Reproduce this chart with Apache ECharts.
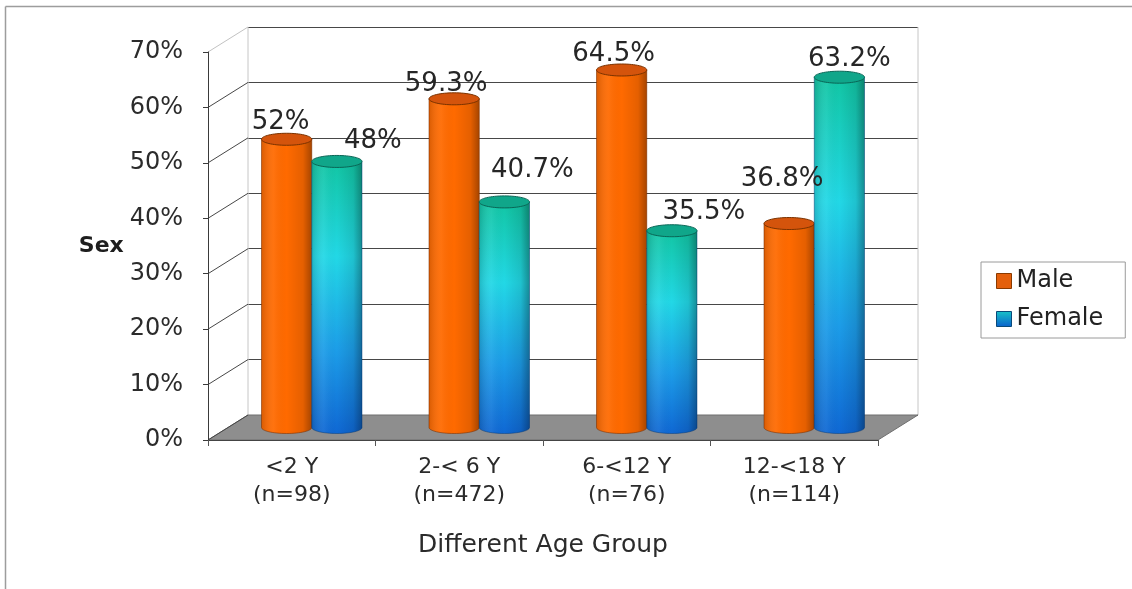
<!DOCTYPE html>
<html>
<head>
<meta charset="utf-8">
<title>Sex by Different Age Group</title>
<script src="https://cdn.jsdelivr.net/npm/echarts@6/dist/echarts.min.js"></script>
<style>
  html, body { margin: 0; padding: 0; background: #ffffff; }
  #chart { width: 1132px; height: 589px; }
</style>
</head>
<body>
<div id="chart"></div>
<script>
// ---- data ----
const ageGroups = ['<2 Y', '2-< 6 Y', '6-<12 Y', '12-<18 Y'];
const sampleSizes = [98, 472, 76, 114];
const malePct = [52, 59.3, 64.5, 36.8];
const femalePct = [48, 40.7, 35.5, 63.2];
const pctTicks = [0, 10, 20, 30, 40, 50, 60, 70];

// ---- layout ----
const FONT = '"DejaVu Sans", "Liberation Sans", Arial, sans-serif';
const PLOT = { left: 208, top: 52, width: 670, height: 388 };   // front plane
const DEPTH = { dx: 40, dy: 25 };                               // back wall offset
const BAR_RATIO = 0.3;   // cylinder width as share of a category band
const CAP_RY = 6;        // vertical radius of cylinder ends
// value-label nudges (px) from each cylinder's top centre
const maleLabelShift = [[-6, -17], [-8, -15], [-8, -16], [-7, -44]];
const femaleLabelShift = [[36, -20], [28, -32], [32, -18], [10, -18]];

const categoryLabels = ageGroups.map((g, i) => g + '\n(n=' + sampleSizes[i] + ')');
const yMin = pctTicks[0], yMax = pctTicks[pctTicks.length - 1], yStep = pctTicks[1] - pctTicks[0];

const grad = (x2, y2, stops) => new echarts.graphic.LinearGradient(0, 0, x2, y2,
  stops.map(([offset, color]) => ({ offset, color })));

const shading = grad(1, 0, [
  [0, 'rgba(0,0,0,0.16)'], [0.25, 'rgba(255,255,255,0.06)'], [0.5, 'rgba(0,0,0,0)'],
  [0.82, 'rgba(0,0,0,0.10)'], [1, 'rgba(0,0,0,0.36)']
]);

const malePalette = {
  body: '#ff6a00',
  edge: 'rgba(120,45,0,0.55)',
  cap: '#d4540c',
  capEdge: '#7a3200'
};
const femalePalette = {
  body: grad(0, 1, [[0, '#12c6a4'], [0.35, '#22d8e6'], [0.7, '#1c9ce8'], [1, '#0f68d4']]),
  edge: 'rgba(0,50,110,0.45)',
  cap: '#10a68a',
  capEdge: '#0a6656'
};

function cylinderRenderer(side, shifts, palette) {
  return function (params, api) {
    const i = api.value(0);
    const v = api.value(1);
    const band = api.size([1, 0])[0];
    const rx = band * BAR_RATIO / 2;
    const ry = CAP_RY;
    const top = api.coord([i, v]);
    const base = api.coord([i, 0]);
    const cx = top[0] + side * rx;
    const l = cx - rx, r = cx + rx, ty = top[1], by = base[1];
    const k = 0.5523;
    const body = 'M' + l + ',' + ty + ' L' + l + ',' + by +
      ' C' + l + ',' + (by + k * ry) + ' ' + (cx - k * rx) + ',' + (by + ry) + ' ' + cx + ',' + (by + ry) +
      ' C' + (cx + k * rx) + ',' + (by + ry) + ' ' + r + ',' + (by + k * ry) + ' ' + r + ',' + by +
      ' L' + r + ',' + ty + ' Z';
    const sh = shifts[params.dataIndex];
    return {
      type: 'group',
      children: [
        { type: 'path', shape: { pathData: body }, style: { fill: palette.body } },
        { type: 'path', shape: { pathData: body }, style: { fill: shading, stroke: palette.edge, lineWidth: 1 } },
        { type: 'ellipse', shape: { cx: cx, cy: ty, rx: rx, ry: ry },
          style: { fill: palette.cap, stroke: palette.capEdge, lineWidth: 1 } },
        { type: 'text', x: cx + sh[0], y: ty + sh[1], z2: 100,
          style: { text: v + '%', fill: '#262626', font: '26px ' + FONT,
                   align: 'center', verticalAlign: 'middle' } }
      ]
    };
  };
}

function gridAt(dx, dy) {
  return { left: PLOT.left + dx, top: PLOT.top - dy, width: PLOT.width, height: PLOT.height };
}

const hiddenCat = { type: 'category', data: categoryLabels, show: false, boundaryGap: true };
const hiddenVal = { type: 'value', min: yMin, max: yMax, interval: yStep, show: false };

const chart = echarts.init(document.getElementById('chart'), null, { renderer: 'canvas' });

const frameStyle = { stroke: '#9d9d9d', lineWidth: 1.5 };

chart.setOption({
  animation: false,
  backgroundColor: '#ffffff',
  textStyle: { fontFamily: FONT },
  graphic: [
    { type: 'line', silent: true, shape: { x1: 5.5, y1: 6.5, x2: 1132, y2: 6.5 }, style: frameStyle },
    { type: 'line', silent: true, shape: { x1: 5.5, y1: 6.5, x2: 5.5, y2: 589 }, style: frameStyle }
  ],
  grid: [
    gridAt(DEPTH.dx, DEPTH.dy),          // back wall
    gridAt(0, 0),                        // front plane
    gridAt(DEPTH.dx / 2, DEPTH.dy / 2)   // mid depth, where the cylinders stand
  ],
  xAxis: [
    Object.assign({}, hiddenCat, { gridIndex: 0 }),
    {
      gridIndex: 1, type: 'category', data: categoryLabels, boundaryGap: true, z: 10,
      axisLine: { show: true, lineStyle: { color: '#444444', width: 1 } },
      axisTick: { show: true, length: 6, lineStyle: { color: '#555555' } },
      axisLabel: { color: '#2b2b2b', fontSize: 22, lineHeight: 28, margin: 13, fontFamily: FONT },
      name: 'Different Age Group', nameLocation: 'middle', nameGap: 93,
      nameTextStyle: { color: '#2b2b2b', fontSize: 25, fontFamily: FONT }
    },
    Object.assign({}, hiddenCat, { gridIndex: 2 })
  ],
  yAxis: [
    {
      gridIndex: 0, type: 'value', min: yMin, max: yMax, interval: yStep,
      axisLine: { show: false }, axisTick: { show: false }, axisLabel: { show: false },
      splitLine: { show: true, lineStyle: { color: '#474747', width: 1 } }
    },
    {
      gridIndex: 1, type: 'value', min: yMin, max: yMax, interval: yStep, z: 10,
      axisLine: { show: true, lineStyle: { color: '#3a3a3a', width: 1 } },
      axisTick: { show: true, length: 5, lineStyle: { color: '#3a3a3a' } },
      axisLabel: { formatter: '{value}%', color: '#2b2b2b', fontSize: 24, margin: 25, fontFamily: FONT },
      splitLine: { show: false },
      name: 'Sex', nameLocation: 'middle', nameRotate: 0, nameGap: 77,
      nameTextStyle: { color: '#1e1e1e', fontSize: 22, fontWeight: 'bold', fontFamily: FONT }
    },
    Object.assign({}, hiddenVal, { gridIndex: 2 })
  ],
  legend: {
    orient: 'vertical', left: 981, top: 262,
    padding: [5, 22, 5, 15], itemGap: 10, itemWidth: 15, itemHeight: 15,
    borderColor: '#9a9a9a', borderWidth: 1,
    textStyle: { fontSize: 24, lineHeight: 28, color: '#222222', fontFamily: FONT },
    data: [
      { name: 'Male', icon: 'rect',
        itemStyle: { color: '#e4600c', borderColor: '#8a3a00', borderWidth: 1 } },
      { name: 'Female', icon: 'rect',
        itemStyle: { color: grad(0, 1, [[0, '#18c4c8'], [1, '#0b60cc']]), borderColor: '#0a4a7a', borderWidth: 1 } }
    ]
  },
  series: [
    {
      // side and back edges of the wall
      type: 'custom', name: 'wall', xAxisIndex: 0, yAxisIndex: 0, z: 1, silent: true,
      data: [[0, yMin]],
      renderItem: function (params) {
        const cs = params.coordSys;
        const st = { stroke: '#c6c6c6', lineWidth: 1 };
        return { type: 'group', children: [
          { type: 'line', shape: { x1: cs.x, y1: cs.y, x2: cs.x, y2: cs.y + cs.height }, style: st },
          { type: 'line', shape: { x1: cs.x + cs.width, y1: cs.y, x2: cs.x + cs.width, y2: cs.y + cs.height }, style: st }
        ] };
      }
    },
    {
      // grey floor
      type: 'custom', name: 'floor', xAxisIndex: 1, yAxisIndex: 1, z: 2, silent: true,
      data: [[0, yMin]],
      renderItem: function (params, api) {
        const cs = params.coordSys;
        const y0 = api.coord([0, yMin])[1];
        return {
          type: 'polygon',
          shape: { points: [
            [cs.x, y0], [cs.x + cs.width, y0],
            [cs.x + cs.width + DEPTH.dx, y0 - DEPTH.dy], [cs.x + DEPTH.dx, y0 - DEPTH.dy]
          ] },
          style: { fill: '#8e8e8e', stroke: '#6f6f6f', lineWidth: 1 }
        };
      }
    },
    {
      // receding lines from the value axis to the back wall
      type: 'custom', name: 'depthLines', xAxisIndex: 1, yAxisIndex: 1, z: 3, silent: true,
      data: pctTicks.map(v => [0, v]),
      renderItem: function (params, api) {
        const x = params.coordSys.x;
        const v = api.value(1);
        const y = api.coord([0, v])[1];
        return {
          type: 'line',
          shape: { x1: x, y1: y, x2: x + DEPTH.dx, y2: y - DEPTH.dy },
          style: { stroke: v === yMax ? '#c2c2c2' : '#474747', lineWidth: 1 }
        };
      }
    },
    {
      type: 'custom', name: 'Male', xAxisIndex: 2, yAxisIndex: 2, z: 4,
      itemStyle: { color: '#e4600c' },
      data: malePct.map((v, i) => [i, v]),
      renderItem: cylinderRenderer(-1, maleLabelShift, malePalette)
    },
    {
      type: 'custom', name: 'Female', xAxisIndex: 2, yAxisIndex: 2, z: 4,
      itemStyle: { color: '#1a9ad8' },
      data: femalePct.map((v, i) => [i, v]),
      renderItem: cylinderRenderer(1, femaleLabelShift, femalePalette)
    }
  ]
});
</script>
</body>
</html>
